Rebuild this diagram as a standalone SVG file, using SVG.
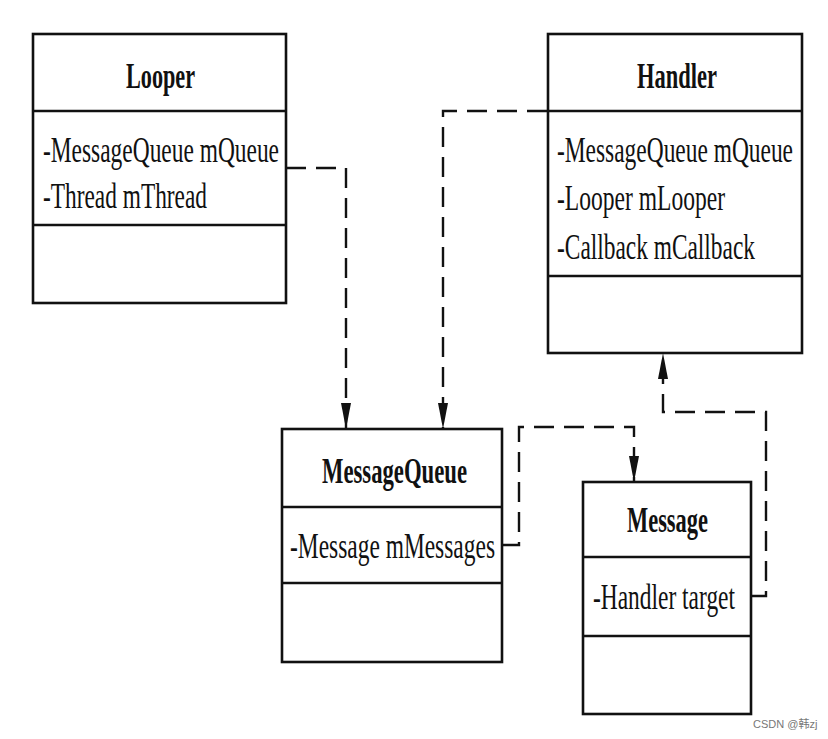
<svg xmlns="http://www.w3.org/2000/svg" width="828" height="739" viewBox="0 0 828 739">
<defs>
<style>
.box{fill:#fff;stroke:#111;stroke-width:2.6}
.div{stroke:#111;stroke-width:2.6}
.title{font-family:"Liberation Serif","Times New Roman",serif;font-weight:bold;font-size:36px;fill:#111}
.attr{font-family:"Liberation Serif","Times New Roman",serif;font-size:35px;fill:#111}
.conn{fill:none;stroke:#111;stroke-width:2.4;stroke-dasharray:20 10}
.wm{font-family:"Liberation Sans","Noto Sans CJK SC",sans-serif;font-size:11px;fill:#777}
</style>
<marker id="arr" markerUnits="userSpaceOnUse" markerWidth="26" markerHeight="12" refX="26" refY="5" orient="auto">
<path d="M0,0 L26,5 L0,10 Z" fill="#111"/>
</marker>
</defs>
<rect x="0" y="0" width="828" height="739" fill="#fff"/>

<g id="connectors">
<path class="conn" d="M286,168 H346 V429" marker-end="url(#arr)"/>
<path class="conn" d="M547,111 H443 V429" marker-end="url(#arr)"/>
<path class="conn" d="M502,545 H519 V427 H634 V482" marker-end="url(#arr)"/>
<path class="conn" d="M751,596 H766 V412 H663 V353" marker-end="url(#arr)"/>
</g>

<g id="looper">
<rect class="box" x="33" y="34" width="253" height="269"/>
<line class="div" x1="33" y1="111" x2="286" y2="111"/>
<line class="div" x1="33" y1="225" x2="286" y2="225"/>
<text class="title" x="126" y="88" textLength="69" lengthAdjust="spacingAndGlyphs">Looper</text>
<text class="attr" x="43" y="162" textLength="236" lengthAdjust="spacingAndGlyphs">-MessageQueue mQueue</text>
<text class="attr" x="43" y="208" textLength="164" lengthAdjust="spacingAndGlyphs">-Thread mThread</text>
</g>

<g id="handler">
<rect class="box" x="548" y="34" width="254" height="319"/>
<line class="div" x1="548" y1="111" x2="802" y2="111"/>
<line class="div" x1="548" y1="276" x2="802" y2="276"/>
<text class="title" x="637" y="88" textLength="80" lengthAdjust="spacingAndGlyphs">Handler</text>
<text class="attr" x="557" y="162" textLength="236" lengthAdjust="spacingAndGlyphs">-MessageQueue mQueue</text>
<text class="attr" x="557" y="210" textLength="168" lengthAdjust="spacingAndGlyphs">-Looper mLooper</text>
<text class="attr" x="557" y="259" textLength="198" lengthAdjust="spacingAndGlyphs">-Callback mCallback</text>
</g>

<g id="messagequeue">
<rect class="box" x="282" y="429" width="220" height="233"/>
<line class="div" x1="282" y1="507" x2="502" y2="507"/>
<line class="div" x1="282" y1="583" x2="502" y2="583"/>
<text class="title" x="322" y="483" textLength="145" lengthAdjust="spacingAndGlyphs">MessageQueue</text>
<text class="attr" x="290" y="558" textLength="205" lengthAdjust="spacingAndGlyphs">-Message mMessages</text>
</g>

<g id="message">
<rect class="box" x="583" y="482" width="168" height="232"/>
<line class="div" x1="583" y1="557" x2="751" y2="557"/>
<line class="div" x1="583" y1="636" x2="751" y2="636"/>
<text class="title" x="627" y="532" textLength="81" lengthAdjust="spacingAndGlyphs">Message</text>
<text class="attr" x="593" y="609" textLength="142" lengthAdjust="spacingAndGlyphs">-Handler target</text>
</g>

<text class="wm" x="753" y="728">CSDN @韩zj</text>
</svg>
